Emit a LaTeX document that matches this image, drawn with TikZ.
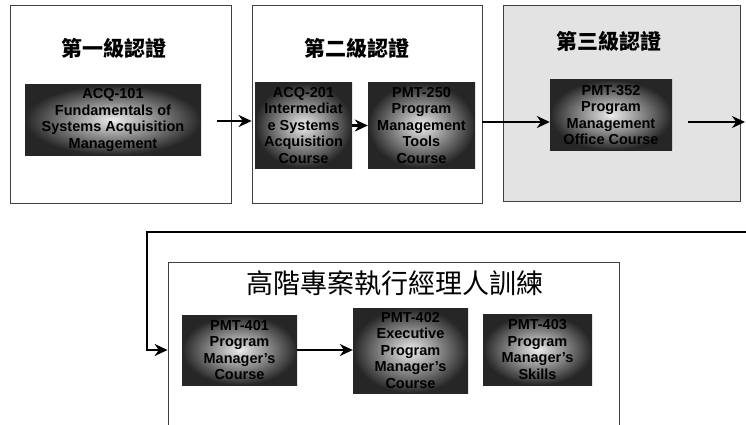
\documentclass[tikz,border=0pt]{standalone}
\usepackage{fontspec}
\usetikzlibrary{arrows.meta}
\setsansfont{Liberation Sans}
\newfontfamily\cjk{Noto Sans CJK TC}
\tikzset{lv/.style = {rectangle, draw=black!75, line width=0.8pt, inner sep=0pt},
           cs/.style = {rectangle, inner sep=0pt, align=center, shading=radial, inner color=gray!15, outer color=black!85,
                        font=\sffamily\bfseries\fontsize{14.5}{16.5}\selectfont},
           ti/.style = {font=\cjk\bfseries\fontsize{21}{24}\selectfont},
           ar/.style = {-{Stealth[length=13pt, width=12pt]}, line width=2.6pt}}

\begin{document}
\begin{tikzpicture}[x=1pt, y=-1pt]
    \clip (0,0) rectangle (746,425);
    \node[lv, minimum width=221pt, minimum height=198pt] (l1) at (120.5,104) {};
    \node[lv, minimum width=230pt, minimum height=198pt] (l2) at (367,104) {};
    \node[lv, fill=gray!22, minimum width=237pt, minimum height=196pt] (l3) at (621.5,103) {};
    \node[lv, minimum width=451pt, minimum height=170pt] (l4) at (393.5,347) {};
    \node[ti] (t1) at (114,48) {第一級認證};
    \node[ti] (t2) at (357,48) {第二級認證};
    \node[ti] (t3) at (609,41) {第三級認證};
    \node[ti, font=\cjk\fontsize{27}{30}\selectfont] (t4) at (395,283) {高階專案執行經理人訓練};
    \node[cs, minimum width=176pt, minimum height=70pt] (c101) at (113,120) {ACQ-101\\Fundamentals of\\Systems Acquisition\\Management};
    \node[cs, minimum width=97pt, minimum height=85pt] (c201) at (303.5,125.5) {ACQ-201\\Intermediat\\e Systems\\Acquisition\\Course};
    \node[cs, minimum width=107pt, minimum height=85pt] (c250) at (421.5,125.5) {PMT-250\\Program\\Management\\Tools\\Course};
    \node[cs, minimum width=122pt, minimum height=70pt] (c352) at (611,115) {PMT-352\\Program\\Management\\Office Course};
    \node[cs, minimum width=115pt, minimum height=70pt] (c401) at (239.5,350) {PMT-401\\Program\\Manager's\\Course};
    \node[cs, minimum width=115pt, minimum height=85pt] (c402) at (410.5,350.5) {PMT-402\\Executive\\Program\\Manager's\\Course};
    \node[cs, minimum width=109pt, minimum height=71pt] (c403) at (537.5,349.5) {PMT-403\\Program\\Manager's\\Skills};
    \coordinate (a1) at (217,121); \coordinate (a2) at (482,122); \coordinate (a3) at (688,122);
    \coordinate (e3) at (745,122); \coordinate (r0) at (746,232); \coordinate (r1) at (147,232);
    \draw[ar] (a1) -- (a1 -| l2.west);
    \draw[ar] (c201.east |- c250) -- (c250.west);
    \draw[ar] (a2) -- (a2 -| c352.west);
    \draw[ar] (a3) -- (e3);
    \draw[ar] (r0) -- (r1) |- (l4.west |- c401);
    \draw[ar] (c401.east) -- (c402.west |- c401);
\end{tikzpicture}
\end{document}
